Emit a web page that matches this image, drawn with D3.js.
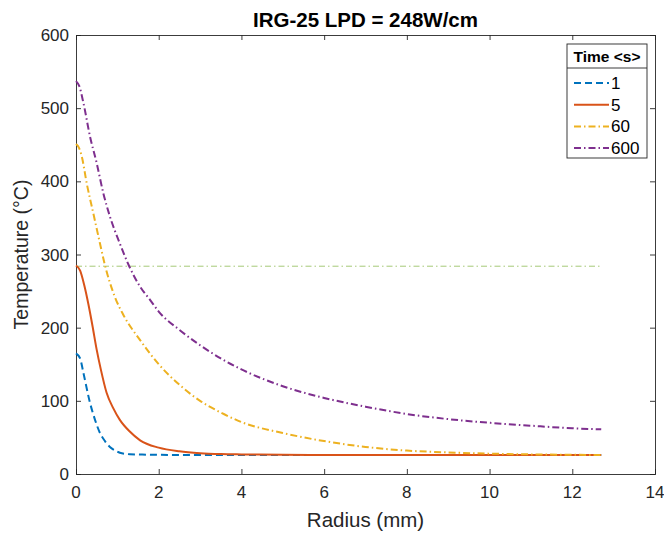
<!DOCTYPE html>
<html>
<head>
<meta charset="utf-8">
<script src="https://cdn.jsdelivr.net/npm/d3@7"></script>
<style>
  html, body { margin: 0; padding: 0; background: #fff; overflow: hidden; }
  svg { display: block; font-family: "Liberation Sans", Arial, Helvetica, sans-serif; }
</style>
</head>
<body>
<svg></svg>
<script>
const w = 664
const h = 537

// series: radius (mm) vs temperature (C), one pair per time
const times = ['1', '5', '60', '600']

const r1 = [0, 0.1, 0.18, 0.34, 0.46, 0.58, 0.7, 0.82, 0.95, 1.06, 1.3, 1.6, 2, 3, 4, 6, 8, 10, 12.7]
const t1 = [165, 158, 138, 97, 74, 56, 45, 37, 32, 29, 27, 26.5, 26.2, 26, 26, 26, 26, 26, 26]

const r5 = [0, 0.1, 0.2, 0.3, 0.4, 0.5, 0.6, 0.74, 0.9, 1.06, 1.3, 1.55, 2, 2.5, 3, 3.5, 4, 5, 6, 8, 10, 12.7]
const t5 = [285, 278, 258, 232, 202, 170, 143, 111, 90, 74, 58, 46, 36, 31, 28.5, 27.3, 26.8, 26.3, 26, 26, 26, 26]

const r60 = [0, 0.07, 0.14, 0.26, 0.42, 0.58, 0.68, 0.94, 1.14, 1.55, 2, 2.5, 3, 3.5, 4, 5, 6, 7, 8, 9, 10, 11, 12.7]
const t60 = [451, 446, 434, 397, 356, 315, 290, 242, 218, 183, 150, 122, 100, 84, 71, 56, 45, 37, 32, 29.5, 27.8, 26.8, 26]

const r600 = [0, 0.08, 0.18, 0.34, 0.5, 0.66, 0.82, 1.06, 1.27, 1.55, 1.79, 2, 2.5, 3, 3.5, 4, 5, 6, 7, 8, 9, 10, 11, 12, 12.7]
const t600 = [537, 530, 507, 461, 425, 384, 352, 315, 286, 256, 238, 222, 197, 176, 158, 143, 120, 104, 92, 82, 75, 70, 66, 62.5, 61]

// horizontal reference line
const refTemp = 284
const refRange = [0, 12.7]

const xTicks = [0, 2, 4, 6, 8, 10, 12, 14]
const yTicks = [0, 100, 200, 300, 400, 500, 600]

const radii = [r1, r5, r60, r600]
const temps = [t1, t5, t60, t600]

const colors = ['#0072BD', '#D95319', '#EDB120', '#7E2F8E']
const dashes = ['7,4', null, '7,3,1.5,3', '7,3,1.5,3']

const svg = d3.select('svg')
  .attr('width', w)
  .attr('height', h);

const margin = {top: 35, right: 9, bottom: 63, left: 76};

// scales map straight to page pixels
const xScale = d3.scaleLinear()
  .domain([0, 14])
  .range([margin.left, w - margin.right]);

const yScale = d3.scaleLinear()
  .domain([0, 600])
  .range([h - margin.bottom, margin.top]);

const axisColor = '#262626';

// box with inward ticks on all four sides
const axes = [
  svg.append('g').attr('transform', `translate(0, ${yScale(0)})`)
    .call(d3.axisBottom(xScale).tickValues(xTicks).tickSize(-5)),
  svg.append('g').attr('transform', `translate(${xScale(0)}, 0)`)
    .call(d3.axisLeft(yScale).tickValues(yTicks).tickSize(-5)),
  svg.append('g').attr('transform', `translate(0, ${yScale(600)})`)
    .call(d3.axisTop(xScale).tickValues(xTicks).tickSize(-5)),
  svg.append('g').attr('transform', `translate(${xScale(14)}, 0)`)
    .call(d3.axisRight(yScale).tickValues(yTicks).tickSize(-5))
];
axes.forEach(a => {
  a.selectAll('.tick text').remove();
  a.select('.domain').attr('stroke', axisColor).attr('stroke-width', 0.9);
  a.selectAll('.tick line').attr('stroke', axisColor).attr('stroke-width', 0.9);
});

// tick labels
svg.selectAll('.xlab').data(xTicks)
  .enter().append('text')
  .attr('class', 'xlab')
  .attr('x', d => xScale(d))
  .attr('y', yScale(0) + 24)
  .attr('text-anchor', 'middle')
  .attr('font-size', 17)
  .attr('fill', axisColor)
  .text(d => String(d));

svg.selectAll('.ylab').data(yTicks)
  .enter().append('text')
  .attr('class', 'ylab')
  .attr('x', xScale(0) - 7)
  .attr('y', d => yScale(d) + 6)
  .attr('text-anchor', 'end')
  .attr('font-size', 17)
  .attr('fill', axisColor)
  .text(d => String(d));

// reference line
svg.append('line')
  .attr('x1', xScale(refRange[0]))
  .attr('x2', xScale(refRange[1]))
  .attr('y1', yScale(refTemp))
  .attr('y2', yScale(refTemp))
  .attr('stroke', '#77AC30')
  .attr('stroke-opacity', 0.65)
  .attr('stroke-width', 1)
  .attr('stroke-dasharray', '6,3,1.5,3');

const line = d3.line()
  .x(d => xScale(d[0]))
  .y(d => yScale(d[1]))
  .curve(d3.curveMonotoneX);

times.forEach((t, i) => {
  const pts = radii[i].map((r, j) => [r, temps[i][j]]);
  svg.append('path')
    .datum(pts)
    .attr('fill', 'none')
    .attr('stroke', colors[i])
    .attr('stroke-width', 2)
    .attr('stroke-dasharray', dashes[i])
    .attr('d', line);
});

// title and labels
const midX = (xScale(0) + xScale(14)) / 2;
svg.append('text')
  .attr('x', midX)
  .attr('y', 27)
  .attr('text-anchor', 'middle')
  .attr('font-weight', 'bold')
  .attr('font-size', 20.5)
  .attr('fill', '#000')
  .text('IRG-25 LPD = 248W/cm');

svg.append('text')
  .attr('x', midX)
  .attr('y', 527)
  .attr('text-anchor', 'middle')
  .attr('font-size', 20.5)
  .attr('fill', axisColor)
  .text('Radius (mm)');

svg.append('text')
  .attr('transform', `translate(28, ${(yScale(0) + yScale(600)) / 2}) rotate(-90)`)
  .attr('text-anchor', 'middle')
  .attr('font-size', 19.5)
  .attr('fill', axisColor)
  .text('Temperature (°C)');

// legend
const lg = svg.append('g').attr('transform', 'translate(567, 44)');
lg.append('rect')
  .attr('width', 80)
  .attr('height', 114)
  .attr('fill', '#fff')
  .attr('stroke', axisColor)
  .attr('stroke-width', 0.9);
lg.append('line')
  .attr('x1', 0).attr('x2', 80)
  .attr('y1', 24).attr('y2', 24)
  .attr('stroke', axisColor)
  .attr('stroke-width', 0.9);
lg.append('text')
  .attr('x', 40)
  .attr('y', 18)
  .attr('text-anchor', 'middle')
  .attr('font-weight', 'bold')
  .attr('font-size', 15.5)
  .attr('fill', '#000')
  .text('Time <s>');

times.forEach((t, i) => {
  const yy = 39 + i * 21.7;
  lg.append('line')
    .attr('x1', 7).attr('x2', 42)
    .attr('y1', yy).attr('y2', yy)
    .attr('stroke', colors[i])
    .attr('stroke-width', 2)
    .attr('stroke-dasharray', dashes[i]);
  lg.append('text')
    .attr('x', 44)
    .attr('y', yy + 6)
    .attr('font-size', 17)
    .attr('fill', '#000')
    .text(t);
});
</script>
</body>
</html>
